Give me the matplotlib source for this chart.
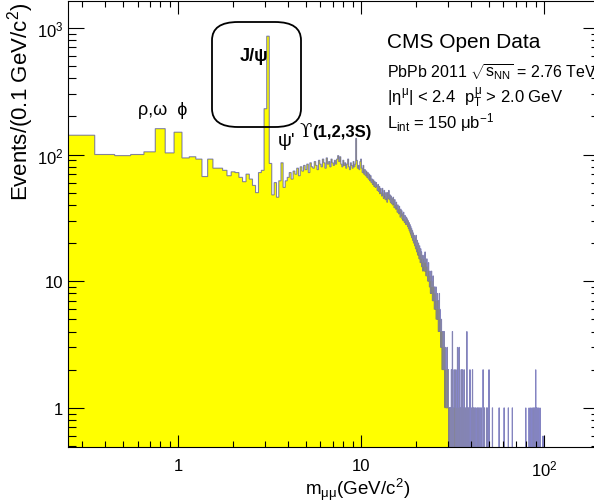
import numpy as np
import matplotlib
matplotlib.use('Agg')
import matplotlib.pyplot as plt
from matplotlib.patches import FancyBboxPatch
from matplotlib.transforms import IdentityTransform
from matplotlib.ticker import FixedLocator, FixedFormatter, LogLocator, NullFormatter

plt.rcParams['font.family'] = ['Liberation Sans', 'DejaVu Sans']
plt.rcParams['mathtext.fontset'] = 'custom'
plt.rcParams['mathtext.rm'] = 'Liberation Sans'
plt.rcParams['mathtext.it'] = 'Liberation Sans'
plt.rcParams['mathtext.bf'] = 'Liberation Sans:bold'

# dimuon mass histogram, 0.1 GeV bins, first bin 0.25-0.35 GeV
bin_start = 0.25
bin_width = 0.1

# events per bin, bin centres 0.3 ... 29.9 GeV
counts = [
    142, 100, 98, 100, 105, 160, 103,                  # 0.3 - 0.9
    150, 94, 96, 92, 67, 92, 78, 78, 75, 68,           # 1.x
    73, 72, 66, 61, 70, 64, 57, 50, 72, 75,            # 2.x
    230, 860, 85, 48, 60, 46, 62, 86, 55, 62,          # 3.x  J/psi, psi'
    66, 72, 64, 74, 70, 78, 68, 80, 74, 82,            # 4.x
    76, 84, 72, 86, 80, 78, 88, 82, 76, 90,            # 5.x
    84, 80, 92, 86, 78, 94, 84, 88, 80, 92,            # 6.x
    86, 82, 90, 84, 92, 98, 88, 96, 84, 80,            # 7.x
    90, 82, 86, 78, 84, 92, 80, 76, 86, 82,            # 8.x
    78, 88, 80, 84, 134, 90, 78, 82, 76, 88,           # 9.x  Upsilon
    92, 78, 72, 82, 70, 76, 68, 74, 66, 72,            # 10.x
    64, 70, 62, 68, 60, 64, 58, 63, 56, 61,            # 11.x
    55, 60, 56, 52, 58, 51, 56, 49, 54, 50,            # 12.x
    47, 54, 49, 45, 52, 47, 44, 50, 45, 42,            # 13.x
    50, 45, 52, 44, 48, 42, 47, 41, 45, 40,            # 14.x
    46, 41, 38, 44, 40, 37, 42, 38, 35, 40,            # 15.x
    37, 34, 39, 35, 32, 37, 33, 36, 31, 34,            # 16.x
    30, 35, 31, 29, 33, 30, 28, 32, 28, 31,            # 17.x
    27, 30, 26, 29, 25, 28, 24, 27, 23, 26,            # 18.x
    22, 25, 21, 24, 20, 23, 21, 19, 22, 18,            # 19.x
    23, 19, 17, 21, 18, 16, 20, 17, 15, 19,            # 20.x
    16, 14, 18, 15, 17, 13, 16, 14, 12, 15,            # 21.x
    13, 16, 12, 14, 17, 12, 14, 11, 13, 15,            # 22.x
    11, 13, 10, 12, 14, 10, 11, 9, 12, 10,             # 23.x
    8, 11, 9, 12, 8, 10, 7, 9, 11, 7,                  # 24.x
    9, 8, 6, 9, 7, 8, 6, 9, 5, 7,                      # 25.x
    6, 8, 5, 7, 6, 4, 7, 5, 8, 4,                      # 26.x
    6, 4, 5, 3, 4, 5, 3, 4, 2, 4,                      # 27.x
    3, 4, 2, 3, 2, 4, 2, 3, 1, 2,                      # 28.x
    3, 2, 1, 2, 1, 2, 3, 1, 2, 1,                      # 29.x
]

# sparse high-mass tail: bin mass (GeV) and events
tail_mass = [30.0, 30.1, 30.3, 30.5, 30.8,
             31.2, 31.6, 31.9, 32.3, 32.6,
             33.0, 33.3, 33.7, 34.0, 34.4,
             34.8, 35.3, 35.8, 36.2, 36.6,
             37.2, 37.9, 38.3, 38.8, 39.4,
             40.0, 40.7, 41.2, 41.9, 42.5,
             43.3, 44.0, 44.7, 45.4, 46.5,
             47.3, 48.6, 49.4, 50.1, 52.3,
             56.9, 60.6, 63.9, 67.2, 79.6,
             83.0, 84.6, 86.1, 87.3, 88.2,
             89.1, 90.2, 91.1, 92.0, 93.4,
             95.2, 98.8]
tail_count = [2, 1, 1, 1, 1,
              2, 4, 1, 2, 1,
              2, 1, 3, 1, 3,
              1, 2, 2, 1, 2,
              1, 4, 1, 1, 2,
              1, 2, 1, 1, 1,
              1, 1, 1, 1, 2,
              1, 1, 1, 2, 1,
              1, 1, 1, 1, 1,
              1, 1, 1, 1, 1,
              1, 2, 1, 1, 1,
              1, 0.6]

n_bins = 1000
edges = bin_start + bin_width * np.arange(n_bins + 1)
values = np.zeros(n_bins)
values[:len(counts)] = counts
idx = np.floor((np.array(tail_mass) - bin_start) / bin_width + 1e-6).astype(int)
values[idx] = tail_count
values = np.where(values > 0, values, 1e-3)  # empty bins drop below the axis

fig = plt.figure(figsize=(5.94, 5.02), dpi=100)
ax = fig.add_axes([68/594, 1 - 448/502, (599 - 68)/594, (448 - 2)/502])
ax.set_xscale('log')
ax.set_yscale('log')

ax.stairs(values, edges, baseline=1e-3, fill=True, color='#ffff00', lw=0)
ax.stairs(values, edges, baseline=1e-3, color=(0.2, 0.2, 0.65), alpha=0.6, lw=0.8)

ax.set_xlim(0.25, 200)
ax.set_ylim(0.49, 1630)

ax.xaxis.set_major_locator(FixedLocator([1, 10, 100]))
ax.xaxis.set_major_formatter(FixedFormatter(['1', '10', r'$10^{2}$']))
ax.xaxis.set_minor_locator(LogLocator(base=10, subs=np.arange(2, 10), numticks=20))
ax.xaxis.set_minor_formatter(NullFormatter())
ax.yaxis.set_major_locator(FixedLocator([1, 10, 100, 1000]))
ax.yaxis.set_major_formatter(FixedFormatter(['1', '10', r'$10^{2}$', r'$10^{3}$']))
ax.yaxis.set_minor_locator(LogLocator(base=10, subs=np.arange(2, 10), numticks=20))
ax.yaxis.set_minor_formatter(NullFormatter())

ax.tick_params(axis='x', which='major', direction='in', length=9, width=0.8, top=True, pad=8, labelsize=12)
ax.tick_params(axis='x', which='minor', direction='in', length=4.5, width=0.8, top=True)
ax.tick_params(axis='y', which='major', direction='in', length=11.5, width=0.8, right=True, pad=3.5, labelsize=12)
ax.tick_params(axis='y', which='minor', direction='in', length=6, width=0.8, right=True)
for s in ax.spines.values():
    s.set_linewidth(0.8)

def px(x, y):
    return x / 594, 1 - y / 502

# resonance labels
fig.text(*px(138, 115), 'ρ,ω  ϕ', fontsize=13)
fig.text(*px(240, 61), 'J/ψ', fontsize=13, fontweight='bold')
fig.text(*px(278, 146), "ψ'", fontsize=14)
fig.text(*px(299, 137), 'ϒ', fontsize=13, family=['DejaVu Serif'])
fig.text(*px(312, 137), '(1,2,3S)', fontsize=12, fontweight='bold')

box = FancyBboxPatch((212, 502 - 128), 89, 105, boxstyle='round,pad=0,rounding_size=26',
                     mutation_aspect=0.7, transform=IdentityTransform(),
                     fill=False, ec='black', lw=1.3)
fig.add_artist(box)

# info block
fig.text(*px(387, 48), 'CMS Open Data', fontsize=15)
fig.text(*px(387, 77), r'PbPb 2011 $\sqrt{s_{\mathrm{NN}}}$ = 2.76 TeV', fontsize=11.5)
fig.text(*px(387, 103), r'$|\eta^{\mu}|$ < 2.4  $p_{\mathrm{T}}^{\mu}$ > 2.0 GeV', fontsize=12)
fig.text(*px(387, 128), r'$L_{\mathrm{int}}$ = 150 $\mu$b$^{-1}$', fontsize=12)

# axis titles
fig.text(*px(305, 495), r'$m_{\mu\mu}$(GeV/$c^{2}$)', fontsize=13.5)
fig.text(*px(21, 2), r'Events/(0.1 GeV/$c^{2}$)', rotation=90, ha='center', va='top', fontsize=16)

fig.savefig('out.png', dpi=100)
